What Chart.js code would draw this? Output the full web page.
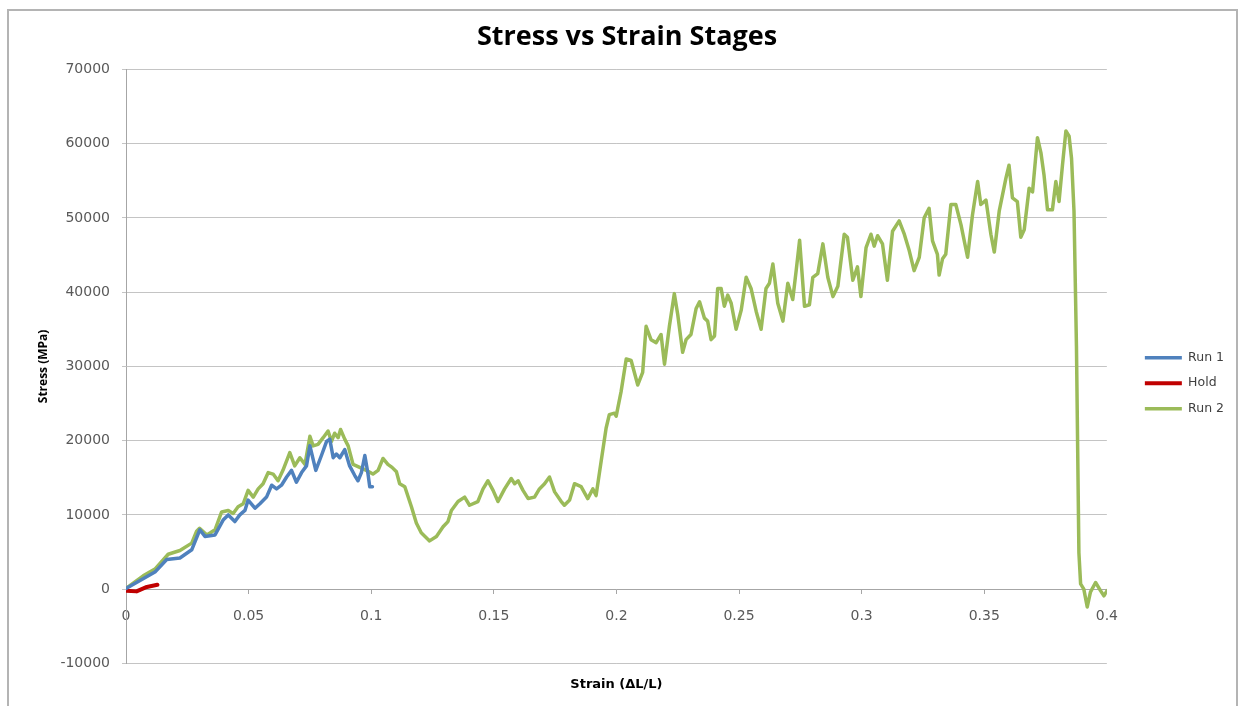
<!DOCTYPE html>
<html>
<head>
<meta charset="utf-8">
<script src="https://cdn.jsdelivr.net/npm/chart.js@4.4.1/dist/chart.umd.min.js"></script>
<style>
  html, body { margin: 0; padding: 0; background: #ffffff; }
  #wrap { position: relative; width: 1245px; height: 706px; overflow: hidden; }
  #frame { position: absolute; left: 7px; top: 9px; width: 1231px; height: 720px;
           border: 2px solid #b4b4b4; box-sizing: border-box; pointer-events: none; }
  canvas { position: absolute; left: 0; top: 0; }
</style>
</head>
<body>
<div id="wrap">
  <canvas id="chart" width="1245" height="706"></canvas>
  <div id="frame"></div>
</div>
<script>
// Stress vs strain readings for each test stage
const run1Strain = [0, 0.0118, 0.0166, 0.022, 0.0268, 0.0301, 0.0322, 0.0363, 0.0396, 0.0417, 0.0444, 0.0464, 0.0485, 0.0498, 0.0526, 0.0546, 0.0573, 0.0594, 0.0614, 0.0634, 0.0655, 0.0675, 0.0695, 0.0716, 0.0736, 0.075, 0.0774, 0.0797, 0.0818, 0.0831, 0.0845, 0.0858, 0.0872, 0.0892, 0.0912, 0.0933, 0.0946, 0.096, 0.0974, 0.0987, 0.0994, 0.1005];
const run1Stress = [100, 2300, 4000, 4200, 5300, 8000, 7100, 7300, 9300, 10000, 9100, 10000, 10600, 12000, 10900, 11500, 12400, 14000, 13500, 14000, 15100, 16000, 14400, 15700, 16600, 19300, 16000, 18000, 19900, 20200, 17700, 18200, 17700, 18800, 16600, 15300, 14600, 15700, 18000, 15500, 13800, 13800];

const holdStrain = [0, 0.0043, 0.0085, 0.0128];
const holdStress = [-200, -300, 300, 600];

const run2Strain = [0, 0.007, 0.0118, 0.0172, 0.022, 0.0268, 0.0288, 0.030, 0.033, 0.0363, 0.039, 0.0417, 0.0437, 0.0457, 0.0478, 0.0498, 0.0519, 0.0539, 0.0559, 0.058, 0.060, 0.062, 0.064, 0.0668, 0.0688, 0.0709, 0.073, 0.075, 0.0763, 0.0783, 0.0804, 0.0824, 0.0838, 0.0851, 0.0865, 0.0875, 0.0892, 0.0906, 0.0926, 0.0953, 0.098, 0.1007, 0.1028, 0.1048, 0.1068, 0.1085, 0.1103, 0.1116, 0.1137, 0.1164, 0.1184, 0.1204, 0.1238, 0.1266, 0.1293, 0.1313, 0.1327, 0.1354, 0.1381, 0.1401, 0.1435, 0.1456, 0.1476, 0.1497, 0.1517, 0.1544, 0.1571, 0.1585, 0.1599, 0.1619, 0.164, 0.1666, 0.1686, 0.1707, 0.1727, 0.1748, 0.1775, 0.1788, 0.1809, 0.1829, 0.1856, 0.1883, 0.1904, 0.1917, 0.1938, 0.1958, 0.1971, 0.1992, 0.1999, 0.2019, 0.204, 0.206, 0.2087, 0.2107, 0.2121, 0.2141, 0.2162, 0.2182, 0.2196, 0.2216, 0.2236, 0.225, 0.227, 0.2284, 0.2304, 0.2325, 0.2339, 0.2359, 0.2372, 0.2386, 0.24, 0.2413, 0.2427, 0.244, 0.2454, 0.2468, 0.2488, 0.2509, 0.2529, 0.2549, 0.257, 0.259, 0.261, 0.2624, 0.2638, 0.2658, 0.2679, 0.2699, 0.2719, 0.2733, 0.2747, 0.2767, 0.2787, 0.2801, 0.2821, 0.2842, 0.2862, 0.2883, 0.2903, 0.2929, 0.2942, 0.2964, 0.2983, 0.2997, 0.3018, 0.3038, 0.3051, 0.3065, 0.3085, 0.3105, 0.3126, 0.3153, 0.3174, 0.3194, 0.3214, 0.3235, 0.3255, 0.3275, 0.3289, 0.3309, 0.3316, 0.333, 0.3343, 0.3364, 0.3384, 0.3405, 0.3432, 0.3452, 0.3473, 0.3486, 0.3507, 0.3527, 0.3541, 0.3561, 0.3588, 0.3601, 0.3615, 0.3635, 0.3649, 0.3663, 0.3683, 0.3697, 0.3717, 0.3731, 0.3744, 0.3758, 0.3778, 0.3792, 0.3805, 0.3819, 0.3833, 0.3846, 0.3856, 0.3866, 0.3876, 0.3886, 0.3893, 0.3906, 0.392, 0.3933, 0.3954, 0.3974, 0.3988, 0.4001];
const run2Stress = [100, 1800, 2700, 4700, 5200, 6200, 7800, 8200, 7300, 8000, 10400, 10600, 10200, 11100, 11500, 13300, 12400, 13500, 14200, 15700, 15500, 14600, 16000, 18400, 16600, 17700, 16800, 20600, 19300, 19500, 20400, 21300, 19900, 21000, 20400, 21500, 20200, 19300, 16800, 16400, 16000, 15500, 16000, 17600, 16800, 16400, 15800, 14200, 13800, 11100, 8900, 7600, 6500, 7100, 8400, 9100, 10600, 11800, 12400, 11300, 11800, 13500, 14600, 13300, 11800, 13500, 14900, 14200, 14600, 13300, 12200, 12400, 13500, 14200, 15100, 13100, 11800, 11300, 12000, 14200, 13800, 12200, 13500, 12600, 17300, 21700, 23500, 23700, 23300, 26600, 31000, 30800, 27500, 29200, 35400, 33600, 33200, 34300, 30300, 35400, 39800, 37000, 31900, 33600, 34300, 37800, 38700, 36500, 36100, 33600, 34100, 40500, 40500, 38100, 39600, 38500, 35000, 37600, 42000, 40500, 37400, 35000, 40500, 41200, 43800, 38500, 36100, 41200, 39000, 42900, 47000, 38100, 38300, 42000, 42500, 46500, 42000, 39400, 40800, 47800, 47400, 41600, 43400, 39400, 46000, 47800, 46200, 47600, 46500, 41600, 48200, 49600, 47800, 45600, 42900, 44700, 50000, 51300, 46900, 45100, 42300, 44500, 45100, 51800, 51800, 49100, 44700, 50400, 54900, 51800, 52400, 47800, 45400, 50900, 55300, 57100, 52700, 52200, 47400, 48400, 54000, 53500, 60800, 58800, 55700, 51100, 51100, 54900, 52200, 57100, 61700, 61000, 58000, 50900, 32800, 4900, 700, 0, -2400, -400, 900, -200, -900, -200];

// Axis ticks
const xTickValues = [0, 0.05, 0.1, 0.15, 0.2, 0.25, 0.3, 0.35, 0.4];
const xTickLabels = ['0', '0.05', '0.1', '0.15', '0.2', '0.25', '0.3', '0.35', '0.4'];
const yTickValues = [-10000, 0, 10000, 20000, 30000, 40000, 50000, 60000, 70000];
const yTickLabels = ['-10000', '0', '10000', '20000', '30000', '40000', '50000', '60000', '70000'];

const toPoints = (xs, ys) => xs.map((x, i) => ({ x: x, y: ys[i] }));

const tickFont = { family: '"DejaVu Sans", sans-serif', size: 14 };
const tickColor = '#595959';

new Chart(document.getElementById('chart'), {
  type: 'line',
  data: {
    datasets: [
      { label: 'Run 1', data: toPoints(run1Strain, run1Stress), borderColor: '#4f81bd', backgroundColor: '#4f81bd', borderWidth: 3.5 },
      { label: 'Hold',  data: toPoints(holdStrain, holdStress), borderColor: '#c00000', backgroundColor: '#c00000', borderWidth: 4 },
      { label: 'Run 2', data: toPoints(run2Strain, run2Stress), borderColor: '#9bbb59', backgroundColor: '#9bbb59', borderWidth: 3.5 }
    ]
  },
  options: {
    responsive: false,
    animation: false,
    devicePixelRatio: 1,
    parsing: false,
    elements: {
      point: { radius: 0, hoverRadius: 0 },
      line: { tension: 0, borderJoinStyle: 'round', borderCapStyle: 'round', fill: false }
    },
    layout: { padding: { left: 20, right: 11, top: 0, bottom: 0 } },
    plugins: {
      title: {
        display: true,
        text: 'Stress vs Strain Stages',
        color: '#000000',
        font: { family: '"Open Sans", sans-serif', size: 27, weight: 'bold' },
        padding: { top: 21, bottom: 16 }
      },
      legend: {
        position: 'right',
        align: 'center',
        title: { display: true, text: '', font: { size: 12 }, padding: { top: 46, bottom: 0 } },
        labels: {
          usePointStyle: true,
          pointStyle: 'line',
          pointStyleWidth: 37,
          padding: 13,
          color: '#404040',
          font: { family: '"DejaVu Sans", sans-serif', size: 12.5 }
        }
      },
      tooltip: { enabled: false }
    },
    scales: {
      x: {
        type: 'linear',
        position: { y: 0 },
        min: 0,
        max: 0.4,
        afterBuildTicks: (scale) => { scale.ticks = xTickValues.map(v => ({ value: v })); },
        ticks: {
          autoSkip: false,
          maxRotation: 0,
          padding: 15,
          color: tickColor,
          font: tickFont,
          callback: (v, i) => xTickLabels[i]
        },
        grid: { drawOnChartArea: false, drawTicks: true, tickLength: 4, color: '#a6a6a6' },
        border: { display: true, color: '#a6a6a6', width: 1 }
      },
      x2: {
        type: 'linear',
        position: 'bottom',
        min: 0,
        max: 0.4,
        grid: { display: false },
        border: { display: false },
        ticks: { display: false },
        title: {
          display: true,
          text: 'Strain (ΔL/L)',
          color: '#000000',
          font: { family: '"DejaVu Sans", sans-serif', size: 13, weight: 'bold' },
          padding: { top: 5, bottom: 14 }
        }
      },
      y: {
        type: 'linear',
        min: -10000,
        max: 70000,
        afterBuildTicks: (scale) => { scale.ticks = yTickValues.map(v => ({ value: v })); },
        afterFit: (scale) => { scale.width = 106; },
        ticks: {
          padding: 12,
          color: tickColor,
          font: tickFont,
          callback: (v, i) => yTickLabels[i]
        },
        grid: { color: '#c4c4c4', tickLength: 4, lineWidth: 1 },
        border: { display: true, color: '#a6a6a6', width: 1 },
        title: {
          display: true,
          text: 'Stress (MPa)',
          color: '#000000',
          font: { family: '"Open Sans", sans-serif', size: 12, weight: 'bold' },
          padding: { top: 16, bottom: 0 }
        }
      },
      // empty right-hand axis keeps a gap between the plot and the legend
      gap: {
        type: 'linear',
        position: 'right',
        grid: { display: false },
        border: { display: false },
        ticks: { display: false },
        afterFit: (scale) => { scale.width = 25; }
      }
    }
  }
});
</script>
</body>
</html>
